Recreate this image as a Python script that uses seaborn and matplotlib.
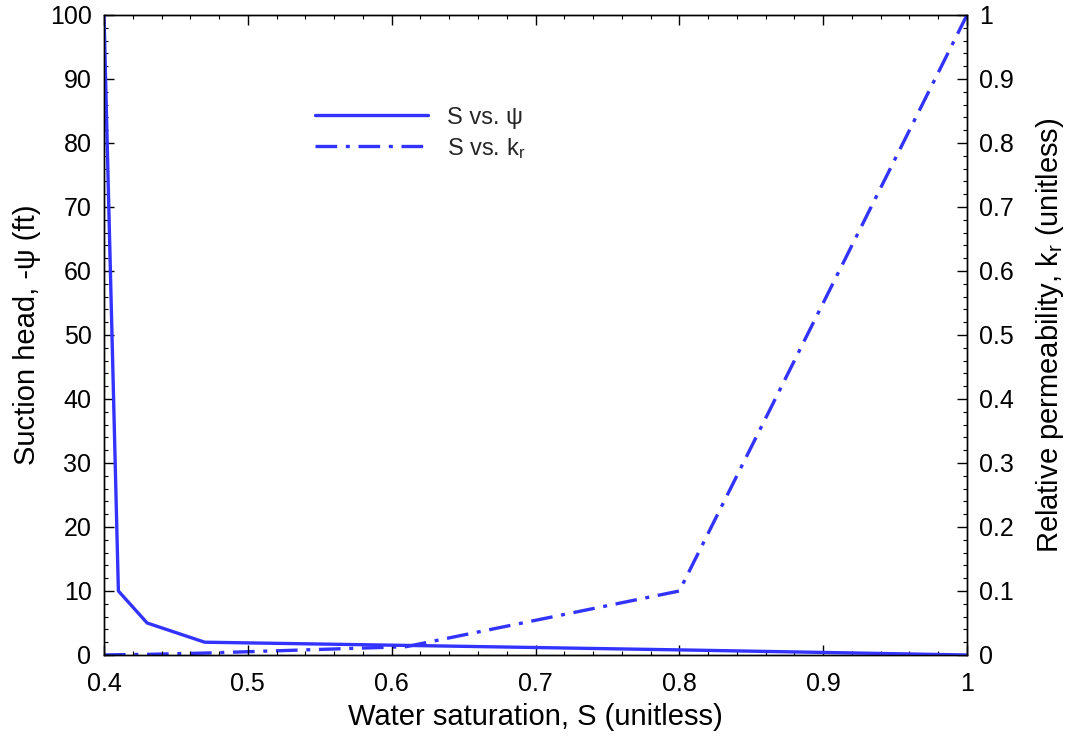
import matplotlib
matplotlib.use("Agg")
import matplotlib.pyplot as plt
import seaborn as sns
import pandas as pd
from matplotlib.ticker import MultipleLocator, FuncFormatter

saturation = [0.40, 0.41, 0.43, 0.47, 0.61, 0.80, 1.00]
suction_head = [100, 10, 5, 2, 1.5, 0.8, 0]
rel_perm = [0.0, 0.0005, 0.001, 0.003, 0.013, 0.10, 1.0]

sns.set_theme(style="white")
plt.rcParams['font.family'] = ['Liberation Sans', 'DejaVu Sans']
plt.rcParams['mathtext.fontset'] = 'custom'
plt.rcParams['mathtext.rm'] = 'Liberation Sans'
plt.rcParams['mathtext.it'] = 'Liberation Sans:italic'

color = '#3333ff'
df = pd.DataFrame({'S': saturation, 'psi': suction_head, 'kr': rel_perm})

fig = plt.figure(figsize=(10.7, 7.38), dpi=100)
ax = fig.add_axes([104/1070, 1-655/738, (967-104)/1070, (655-15)/738])
ax2 = ax.twinx()

sns.lineplot(data=df, x='S', y='psi', ax=ax, sort=False, color=color, lw=2.4, label='S vs. ψ', legend=False)
sns.lineplot(data=df, x='S', y='kr', ax=ax2, sort=False, color=color, lw=2.4, legend=False)
ax2.lines[-1].set_linestyle((0, (6.5, 2.6, 1.2, 2.6)))
ax2.lines[-1].set_label('S vs. k$_\\mathrm{r}$')

ax.set_xlim(0.4, 1.0)
ax.set_ylim(0, 100)
ax2.set_ylim(0, 1)

fmt = FuncFormatter(lambda v, p: f"{v:g}")
ax.xaxis.set_major_locator(MultipleLocator(0.1))
ax.xaxis.set_minor_locator(MultipleLocator(0.02))
ax.xaxis.set_major_formatter(fmt)
ax.yaxis.set_major_locator(MultipleLocator(10))
ax.yaxis.set_minor_locator(MultipleLocator(2))
ax.yaxis.set_major_formatter(fmt)
ax2.yaxis.set_major_locator(MultipleLocator(0.1))
ax2.yaxis.set_minor_locator(MultipleLocator(0.02))
ax2.yaxis.set_major_formatter(fmt)

for a in (ax, ax2):
    for s in a.spines.values():
        s.set_color('black')
        s.set_linewidth(1.0)
ax.tick_params(which='both', direction='in', top=True, bottom=True, left=True, right=False,
               colors='black', labelsize=18, pad=9)
ax.tick_params(axis='x', which='both', pad=12)
ax.tick_params(which='major', length=7, width=1)
ax.tick_params(which='minor', length=3.2, width=0.8)
ax2.tick_params(which='both', direction='in', right=True, left=False, colors='black', labelsize=18, pad=9)
ax2.tick_params(which='major', length=7, width=1)
ax2.tick_params(which='minor', length=3.2, width=0.8)

ax.set_xlabel('Water saturation, S (unitless)', fontsize=21, color='black', labelpad=5)
ax.set_ylabel('Suction head, -ψ (ft)', fontsize=21, color='black', labelpad=6)
ax2.set_ylabel('Relative permeability, k$_\\mathrm{r}$ (unitless)', fontsize=21, color='black', labelpad=14)

h1, l1 = ax.get_legend_handles_labels()
h2, l2 = ax2.get_legend_handles_labels()
leg = ax.legend(h1 + h2, l1 + l2, loc='upper left', bbox_to_anchor=(0.22, 0.89), frameon=False,
                fontsize=17, handlelength=4.8, handletextpad=0.8, labelspacing=0.3)
ax.set_zorder(ax2.get_zorder() + 1)
ax.patch.set_visible(False)

fig.savefig('out.png', dpi=100)
